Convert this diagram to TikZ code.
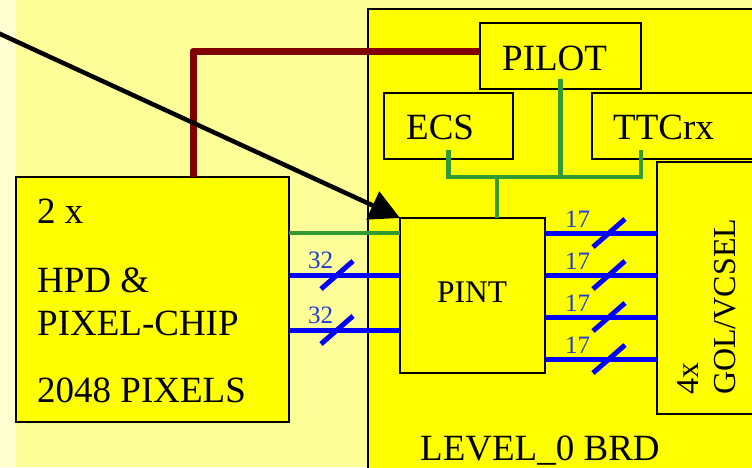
\documentclass[tikz,border=0pt]{standalone}
\usepackage{fontspec}
\setmainfont{Liberation Serif}
\usetikzlibrary{arrows.meta,calc}
\definecolor{bgpale}{RGB}{255,255,153}
\definecolor{strip}{RGB}{255,255,210}
\definecolor{brdyel}{RGB}{255,255,0}
\definecolor{sigGreen}{RGB}{51,153,51}
\definecolor{maroon}{RGB}{128,0,0}
\definecolor{busBlue}{RGB}{0,0,255}
\definecolor{lblBlue}{RGB}{30,60,210}
\tikzset{
  box/.style={draw=black, line width=1.6pt, fill=brdyel, inner sep=0pt, outer sep=0pt, anchor=north west},
  txt/.style={inner sep=0pt, anchor=base west, font=\fontsize{37}{40}\selectfont},
  lbl/.style={inner sep=0pt, anchor=base west, text=lblBlue, font=\fontsize{25}{27}\selectfont},
  sig/.style={draw=sigGreen, line width=4.5pt},
  bus/.style={draw=busBlue, line width=5pt},
  ctl/.style={draw=maroon, line width=7pt, line join=round},
  ptr/.style={draw=black, line width=4.5pt, -{Triangle[length=30pt,width=30pt]}}
}
\begin{document}
\begin{tikzpicture}[x=1pt,y=-1pt]
\useasboundingbox (0,0) rectangle (752,467);
\clip (0,0) rectangle (752,467);
\fill[bgpale] (0,0) rectangle (752,467);
\fill[strip] (0,0) rectangle (16,467);
% boxes
\node[box, minimum width=450pt, minimum height=520pt] (brd) at (368,9) {};
\node[box, minimum width=273pt, minimum height=245pt] (hpd) at (16,177) {};
\node[box, minimum width=161pt, minimum height=66pt] (pilot) at (480,23) {};
\node[box, minimum width=129pt, minimum height=66pt] (ecs) at (384,93) {};
\node[box, minimum width=220pt, minimum height=66pt] (ttc) at (592,93) {};
\node[box, minimum width=160pt, minimum height=252pt] (gol) at (657,162) {};
\node[box, minimum width=145pt, minimum height=155pt] (pint) at (400,218) {};
% texts
\node[txt] (t2x) at (37,223) {2 x};
\node[txt] (thpd) at (37,292) {HPD \&};
\node[txt] (tchip) at (37,335) {PIXEL-CHIP};
\node[txt] (tpix) at (37,402) {2048 PIXELS};
\node[txt] (tpilot) at (502,70) {PILOT};
\node[txt] (tecs) at (406,139) {ECS};
\node[txt] (tttc) at (613,139) {TTCrx};
\node[txt] (tbrd) at (420,460) {LEVEL\_0 BRD};
\node[txt, font=\fontsize{31.5}{34}\selectfont] (tpint) at (437,302) {PINT};
\node[txt, rotate=90, font=\fontsize{32}{34}\selectfont] (tgol) at (735,395) {GOL/VCSEL};
\node[txt, rotate=90, font=\fontsize{32}{34}\selectfont] (t4x) at (698,395) {4x};
% control tree (green)
\coordinate (jl) at (449,177);
\coordinate (jr) at (641,177);
\coordinate (jm) at (497,177);
\coordinate (ttcs) at (641,150);
\draw[sig] ($(ecs.south)+(0,-9)$) -- (ecs.south |- jl) -- (jr) -- (ttcs);
\draw[sig] ($(pilot.south)+(0,-10)$) -- (pilot.south |- jl);
\draw[sig] (jm) -- (jm |- pint.north);
\coordinate (ga) at (0,233);
\draw[sig] (hpd.east |- ga) -- (pint.west |- ga);
% maroon link
\coordinate (mc) at (193,51);
\draw[ctl] (mc |- hpd.north) -- (mc) -- (mc -| pilot.west);
% left buses
\foreach \yy in {275,330}{
  \coordinate (lb) at (0,\yy);
  \draw[bus] (hpd.east |- lb) -- (pint.west |- lb);
  \draw[bus] ($(337,\yy)+(-16,14)$) -- ($(337,\yy)+(16,-14)$);
  \node[lbl] at (308,\yy-7) {32};
}
% right buses
\foreach \yy in {233,275,317,359}{
  \coordinate (rb) at (0,\yy);
  \draw[bus] (pint.east |- rb) -- (gol.west |- rb);
  \draw[bus] ($(609,\yy)+(-16,14)$) -- ($(609,\yy)+(16,-14)$);
  \node[lbl] at (565,\yy-6) {17};
}
% pointer arrow
\coordinate (src) at (-2,33);
\draw[ptr] (src) -- (pint.north west);
\end{tikzpicture}
\end{document}
